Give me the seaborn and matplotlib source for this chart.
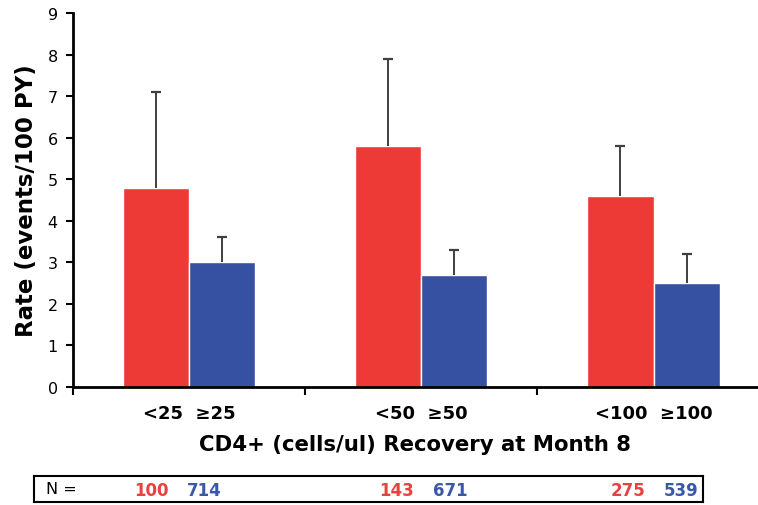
import matplotlib
matplotlib.use("Agg")
import matplotlib.pyplot as plt
import matplotlib.transforms as mtransforms
import seaborn as sns
import pandas as pd

# data
groups = ["<25  \u226525", "<50  \u226550", "<100  \u2265100"]
levels = ["below", "above"]
rate_below = [4.8, 5.8, 4.6]
rate_above = [3.0, 2.7, 2.5]
upper_below = [7.1, 7.9, 5.8]
upper_above = [3.6, 3.3, 3.2]
n_below = [100, 143, 275]
n_above = [714, 671, 539]

red = "#EE3A36"
blue = "#3651A2"

df = pd.DataFrame({
    "group": groups * 2,
    "level": [levels[0]] * 3 + [levels[1]] * 3,
    "rate": rate_below + rate_above,
    "upper": upper_below + upper_above,
})

sns.set_style("white")
plt.rcParams["font.family"] = ["DejaVu Sans"]
plt.rcParams["text.color"] = "black"
plt.rcParams["axes.labelcolor"] = "black"
plt.rcParams["xtick.color"] = "black"
plt.rcParams["ytick.color"] = "black"

fig = plt.figure(figsize=(7.58, 5.06), dpi=100)
ax = fig.add_axes([0.0963, 0.2332, 0.9037, 0.7391])

sns.barplot(data=df, x="group", y="rate", hue="level", order=groups,
            hue_order=levels, palette=[red, blue], width=0.57,
            saturation=1, edgecolor="white", linewidth=1, legend=False,
            errorbar=None, ax=ax)

# one-sided error bars (upper only) at bar centres
for patch in ax.patches:
    h = patch.get_height()
    if h == 0:
        continue
    xc = patch.get_x() + patch.get_width() / 2
    top = df.loc[df["rate"] == h, "upper"].iloc[0]
    ax.plot([xc, xc], [h, top], color="#3f3f3f", lw=1.4, marker="_",
            markersize=7, markeredgewidth=1.6, markevery=[1],
            solid_capstyle="butt")

ax.set_xlim(-0.5, 2.45)
ax.set_ylim(0, 9)
ax.set_yticks(range(0, 10))
ax.tick_params(axis="y", labelsize=11.5, length=5, width=1.5,
               direction="out", left=True, pad=6)
ax.set_xticks([0, 1, 2])
ax.set_xticklabels(groups, fontsize=13, fontweight="bold")
ax.tick_params(axis="x", length=0, pad=12)
ax.set_xticks([-0.5, 0.5, 1.5], minor=True)
ax.tick_params(axis="x", which="minor", length=6, width=1.5, direction="out",
               bottom=True)

for side in ["top", "right"]:
    ax.spines[side].set_visible(False)
for side in ["left", "bottom"]:
    ax.spines[side].set_linewidth(2)
    ax.spines[side].set_color("black")

ax.set_ylabel("Rate (events/100 PY)", fontsize=16.5, fontweight="bold",
              labelpad=7)
ax.set_xlabel("CD4+ (cells/ul) Recovery at Month 8", fontsize=15.3,
              fontweight="bold", labelpad=9)

# N table below the chart
box = fig.add_axes([0.0449, 0.006, 0.8826, 0.0514])
box.set_xticks([])
box.set_yticks([])
for sp in box.spines.values():
    sp.set_visible(True)
    sp.set_linewidth(1.5)
    sp.set_color("black")
box.text(0.018, 0.5, "N =", fontsize=11.5, va="center", ha="left",
         transform=box.transAxes)
trans = mtransforms.blended_transform_factory(ax.transData, box.transAxes)
shift = [-0.05, 0.01, 0.005]
for i in range(3):
    c = i + shift[i]
    box.text(c - 0.04, 0.47, str(n_below[i]), color="#E8413F",
             fontsize=12, fontweight="bold", ha="right", va="center",
             transform=trans)
    box.text(c + 0.04, 0.47, str(n_above[i]), color="#3A58A8",
             fontsize=12, fontweight="bold", ha="left", va="center",
             transform=trans)

fig.savefig("out.png", dpi=100)
